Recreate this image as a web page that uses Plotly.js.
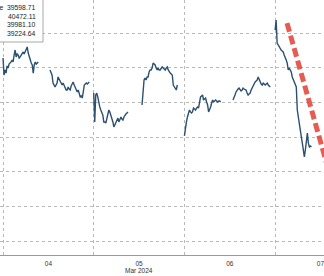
<!DOCTYPE html>
<html>
<head>
<meta charset="utf-8">
<script src="https://cdn.plot.ly/plotly-3.0.1.min.js"></script>
<style>html,body{margin:0;padding:0;background:#fff;}#chart{width:324px;height:276px;}</style>
</head>
<body>
<div id="chart"></div>
<script>
// Intraday sessions: day, start minute of day, prices at 16-minute steps
const sessionDays = ["2024-03-04", "2024-03-04", "2024-03-05", "2024-03-05", "2024-03-06", "2024-03-06", "2024-03-07"];
const sessionStartMin = [0, 746, 0, 767, 0, 771, 0];
const stepMin = 16;

const seg1 = [40070,39948,39984,39962,40013,39998,40027,40034,40042,40056,40042,40092,40128,40078,40099,40092,40070,40078,40092,40106,40114,40099,40114,40135,40150,40106,40078,40056,40034,40020,39962,40020,40042,40027,40034,40042];
const seg2 = [39984,39970,39948,39890,39876,39862,39876,39890,39934,39919,39912,39890,39876,39890,39869,39854,39840,39840,39862,39847,39840,39869,39890,39898,39876,39862,39840,39826,39840,39811,39790,39797,39782,39826,39876,39883,39890,39883,39890,39898];
const seg3 = [39818,39610,39804,39818,39790,39746,39718,39696,39682,39660,39610,39610,39602,39631,39660,39696,39682,39660,39631,39610,39574,39588,39602,39624,39638,39610,39624,39646,39631,39624,39646,39660,39667,39674,39682];
const seg4 = [39732,39826,39912,39926,39912,39934,39934,39970,39984,39984,39998,40034,40027,40020,39998,39984,39998,39984,39984,39998,40006,39998,39991,39984,39998,40006,39984,39970,39962,39955,39948,39876,39862,39854,39840,39876];
const seg5 = [39509,39574,39610,39646,39667,39696,39682,39674,39682,39710,39703,39696,39710,39718,39710,39746,39790,39797,39804,39768,39775,39782,39754,39732,39682,39696,39718,39746,39768,39754,39761,39768,39761,39754,39761,39761,39754];
const seg6 = [39768,39797,39804,39826,39840,39847,39854,39840,39833,39840,39854,39847,39840,39840,39818,39804,39811,39818,39840,39854,39876,39883,39898,39905,39912,39934,39912,39898,39883,39876,39890,39883,39876,39883,39890,39876,39869,39862];
const seg7 = [40272,40344,40178,40164,40150,40142,40128,40121,40114,40092,40078,40056,40034,39984,39998,39984,39970,39934,39912,39898,39883,39862,39696,39638,39602,39552,39502,39458,39408,39358,39408,39480,39530,39458,39430,39437,39430];
const segments = [seg1, seg2, seg3, seg4, seg5, seg6, seg7];

const trendX = ["2024-03-07 03:09", "2024-03-07 14:30"];
const trendY = [40322, 39228];

const monthLabel = "Mar 2024";
const legendLabels = ["Last Price", "", "", ""];
const legendValues = ["39598.71", "40472.11", "39981.10", "39224.64"];

function pad(n){return (n<10?"0":"")+n;}
function stamp(day, min){return day+" "+pad(Math.floor(min/60))+":"+pad(min%60);}

const xs = [], ys = [];
segments.forEach((seg, s) => {
  seg.forEach((v, i) => {
    xs.push(stamp(sessionDays[s], sessionStartMin[s] + i*stepMin));
    ys.push(v);
  });
  xs.push(null); ys.push(null);
});

const font = "Liberation Sans, Arial, sans-serif";
const traces = [
  {x: xs, y: ys, type: "scatter", mode: "lines", connectgaps: false,
   line: {color: "#2b5070", width: 1.4}, hoverinfo: "skip"},
  {x: trendX, y: trendY, type: "scatter", mode: "lines",
   line: {color: "rgba(226,62,52,0.85)", width: 5, dash: "9px,4px"}, hoverinfo: "skip"}
];

const W = 324, plotH = 255;
const annotations = [
  {xref: "x", yref: "paper", x: "2024-03-05 12:00", y: -(270-plotH)/plotH, text: monthLabel,
   showarrow: false, xanchor: "center", yanchor: "middle", font: {family: font, size: 6.5, color: "#333"}}
];
const lineY = [7, 16, 25, 34];
legendValues.forEach((v, i) => {
  annotations.push({xref: "paper", yref: "paper", x: 38/W, y: 1 - lineY[i]/plotH, text: v,
    showarrow: false, xanchor: "right", yanchor: "middle", font: {family: font, size: 6.8, color: "#222"}});
  if (legendLabels[i]) annotations.push({xref: "paper", yref: "paper", x: 5/W, y: 1 - lineY[i]/plotH, text: legendLabels[i],
    showarrow: false, xanchor: "right", yanchor: "middle", font: {family: font, size: 6.8, color: "#222"}});
});

const layout = {
  width: 324, height: 276,
  margin: {l: 0, r: 0, t: 0, b: 276 - plotH, pad: 0},
  paper_bgcolor: "#fff", plot_bgcolor: "#fff",
  showlegend: false,
  xaxis: {type: "date", range: ["2024-03-03 23:12", "2024-03-07 12:56"],
    tick0: "2024-03-04", dtick: 86400000, tickformat: "%d", ticklabelmode: "period",
    ticklabeloverflow: "allow", ticklabelstandoff: 2,
    showgrid: true, gridcolor: "#b8b8b8", griddash: "dot", gridwidth: 1,
    showline: true, linecolor: "#9a9a9a", linewidth: 1, ticks: "", zeroline: false,
    tickfont: {family: font, size: 6.5, color: "#333"}, automargin: false},
  yaxis: {range: [38652, 40488], tick0: 38750, dtick: 250, showgrid: true, gridcolor: "#b8b8b8",
    griddash: "dot", gridwidth: 1, showticklabels: false, zeroline: false, automargin: false},
  shapes: [
    {type: "rect", xref: "paper", yref: "paper", x0: -0.05, x1: 43/W, y0: 1 - 42/plotH, y1: 1.05,
     fillcolor: "#fff", line: {color: "#a8a8a8", width: 1}, layer: "above"}
  ],
  annotations: annotations
};

Plotly.newPlot("chart", traces, layout, {staticPlot: true, displayModeBar: false});
</script>
</body>
</html>
